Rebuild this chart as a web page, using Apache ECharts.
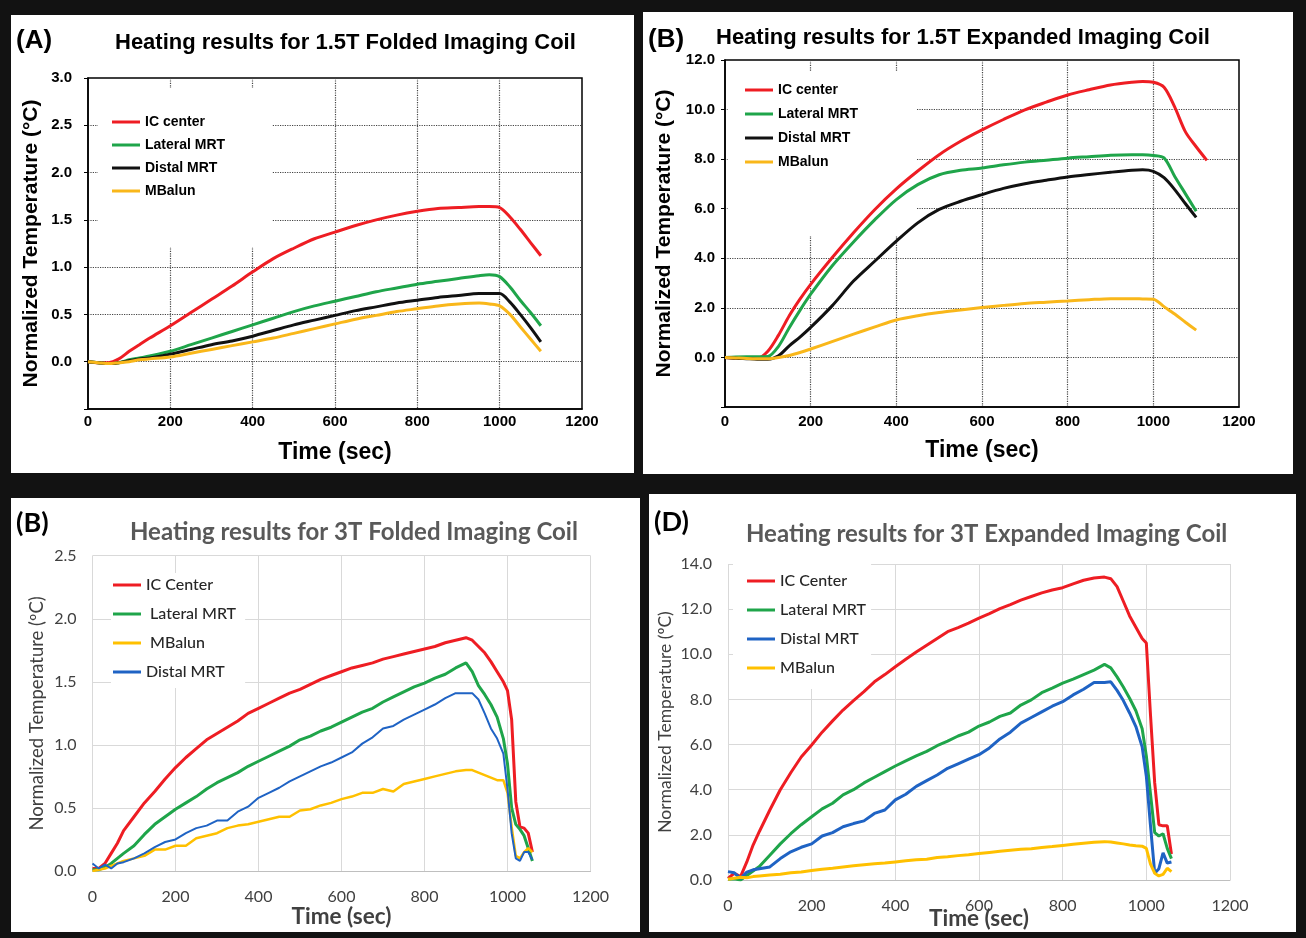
<!DOCTYPE html>
<html>
<head>
<meta charset="utf-8">
<script src="https://cdn.jsdelivr.net/npm/echarts@6/dist/echarts.min.js"></script>
<style>
    html, body { margin: 0; padding: 0; background: #121212; }
    body { width: 1306px; height: 938px; position: relative; overflow: hidden; }
    .panel { position: absolute; background: #fff; }
</style>
</head>
<body>
<div class="panel" id="chartA" style="left:11px;top:15px;width:623px;height:458px;"></div>
<div class="panel" id="chartB" style="left:643px;top:12px;width:650px;height:462px;"></div>
<div class="panel" id="chartC" style="left:11px;top:498px;width:629px;height:434px;"></div>
<div class="panel" id="chartD" style="left:649px;top:494px;width:647px;height:438px;"></div>
<script>
/************* data **************/
// (A) 1.5T folded
var timeA = [0, 25, 50, 75, 100, 125, 150, 200, 250, 300, 350, 400, 450, 500, 550, 600, 650, 700, 750, 800, 850, 900, 950, 975, 1000, 1025, 1050, 1075, 1100];
var icCenterA = [0, -0.01, -0.01, 0.03, 0.11, 0.18, 0.25, 0.38, 0.52, 0.66, 0.80, 0.95, 1.09, 1.20, 1.30, 1.37, 1.44, 1.50, 1.55, 1.59, 1.62, 1.63, 1.64, 1.64, 1.63, 1.53, 1.40, 1.26, 1.12];
var lateralA  = [0, -0.01, -0.02, -0.01, 0.02, 0.04, 0.06, 0.11, 0.18, 0.25, 0.32, 0.39, 0.46, 0.53, 0.59, 0.64, 0.69, 0.74, 0.78, 0.82, 0.85, 0.88, 0.91, 0.92, 0.90, 0.79, 0.65, 0.52, 0.38];
var distalA   = [0, -0.01, -0.02, -0.01, 0.01, 0.03, 0.04, 0.08, 0.13, 0.18, 0.22, 0.27, 0.33, 0.39, 0.44, 0.49, 0.54, 0.58, 0.62, 0.65, 0.68, 0.70, 0.72, 0.72, 0.72, 0.63, 0.50, 0.36, 0.21];
var mbalunA   = [0, -0.01, -0.02, -0.01, 0.00, 0.02, 0.03, 0.05, 0.09, 0.13, 0.17, 0.21, 0.25, 0.30, 0.35, 0.40, 0.45, 0.49, 0.53, 0.56, 0.59, 0.61, 0.62, 0.61, 0.59, 0.50, 0.37, 0.24, 0.11];

// (B) 1.5T expanded
var timeB = [0, 25, 50, 75, 100, 125, 150, 175, 200, 250, 300, 350, 400, 450, 500, 550, 600, 650, 700, 750, 800, 850, 900, 950, 975, 1000, 1025, 1050, 1075, 1100, 1125];
var icCenterB = [0, -0.02, -0.03, -0.04, 0.25, 0.90, 1.68, 2.35, 2.95, 4.02, 5.03, 5.97, 6.80, 7.52, 8.18, 8.72, 9.18, 9.60, 9.99, 10.30, 10.59, 10.80, 10.99, 11.10, 11.13, 11.10, 10.90, 10.10, 9.10, 8.50, 7.95];
var lateralB  = [0, 0.02, 0.03, 0.03, 0.04, 0.45, 1.20, 1.90, 2.55, 3.69, 4.66, 5.56, 6.37, 6.97, 7.37, 7.55, 7.64, 7.77, 7.88, 7.96, 8.04, 8.10, 8.16, 8.18, 8.18, 8.15, 8.05, 7.30, 6.60, 5.90, null];
var distalB   = [0, -0.03, -0.05, -0.07, -0.07, 0.07, 0.47, 0.82, 1.21, 2.08, 3.08, 3.89, 4.69, 5.43, 5.97, 6.30, 6.57, 6.82, 7.01, 7.15, 7.28, 7.38, 7.47, 7.55, 7.57, 7.51, 7.25, 6.77, 6.20, 5.65, null];
var mbalunB   = [0, -0.02, -0.04, -0.05, -0.05, 0.00, 0.08, 0.20, 0.34, 0.64, 0.94, 1.23, 1.51, 1.68, 1.81, 1.91, 2.01, 2.10, 2.18, 2.23, 2.28, 2.33, 2.37, 2.37, 2.36, 2.35, 2.05, 1.75, 1.42, 1.10, null];

// (C) 3T folded  /  (D) 3T expanded  - same time grid
var timeCD = [0, 15, 30, 45, 60, 75, 100, 125, 150, 175, 200, 225, 250, 275, 300, 325, 350, 375, 400, 425, 450, 475, 500, 525, 550, 575, 600, 625, 650, 675, 700, 725, 750, 775, 800, 825, 850, 875, 900, 915, 930, 945, 960, 975, 990, 1000, 1010, 1020, 1030, 1040, 1050, 1060];
var icCenterC = [0.02, 0.02, 0.06, 0.14, 0.22, 0.32, 0.43, 0.54, 0.63, 0.73, 0.82, 0.90, 0.97, 1.04, 1.09, 1.14, 1.19, 1.25, 1.29, 1.33, 1.37, 1.41, 1.44, 1.48, 1.52, 1.55, 1.58, 1.61, 1.63, 1.65, 1.68, 1.70, 1.72, 1.74, 1.76, 1.78, 1.81, 1.83, 1.85, 1.83, 1.78, 1.73, 1.66, 1.58, 1.50, 1.43, 1.20, 0.55, 0.35, 0.34, 0.30, 0.15];
var lateralC  = [0.01, 0.01, 0.03, 0.06, 0.10, 0.14, 0.20, 0.29, 0.37, 0.43, 0.49, 0.54, 0.59, 0.65, 0.70, 0.74, 0.78, 0.83, 0.87, 0.91, 0.95, 0.99, 1.04, 1.07, 1.11, 1.14, 1.18, 1.22, 1.26, 1.29, 1.34, 1.38, 1.42, 1.46, 1.49, 1.53, 1.56, 1.61, 1.65, 1.58, 1.47, 1.40, 1.32, 1.22, 1.05, 0.85, 0.50, 0.37, 0.33, 0.28, 0.18, 0.08];
var mbalunC   = [0.00, 0.01, 0.02, 0.04, 0.06, 0.08, 0.10, 0.12, 0.17, 0.17, 0.20, 0.20, 0.26, 0.28, 0.30, 0.34, 0.36, 0.37, 0.39, 0.41, 0.43, 0.43, 0.48, 0.49, 0.52, 0.54, 0.57, 0.59, 0.62, 0.62, 0.65, 0.63, 0.69, 0.71, 0.73, 0.75, 0.77, 0.79, 0.80, 0.80, 0.78, 0.76, 0.74, 0.72, 0.72, 0.62, 0.35, 0.12, 0.10, 0.15, 0.18, 0.15];
var distalC   = [0.06, 0.02, 0.05, 0.02, 0.06, 0.07, 0.10, 0.14, 0.19, 0.23, 0.25, 0.30, 0.34, 0.36, 0.40, 0.40, 0.47, 0.51, 0.58, 0.62, 0.66, 0.71, 0.75, 0.79, 0.83, 0.86, 0.90, 0.94, 1.01, 1.06, 1.13, 1.15, 1.20, 1.24, 1.28, 1.32, 1.37, 1.41, 1.41, 1.41, 1.36, 1.25, 1.13, 1.05, 0.93, 0.65, 0.30, 0.10, 0.08, 0.15, 0.15, 0.09];

var icCenterD = [0.07, 0.30, 0.15, 0.80, 1.55, 2.15, 3.10, 4.00, 4.75, 5.45, 5.98, 6.55, 7.05, 7.53, 7.95, 8.35, 8.78, 9.10, 9.45, 9.78, 10.10, 10.40, 10.70, 11.00, 11.18, 11.38, 11.60, 11.80, 12.02, 12.20, 12.40, 12.56, 12.72, 12.85, 12.95, 13.12, 13.28, 13.38, 13.42, 13.35, 13.00, 12.35, 11.70, 11.20, 10.70, 10.50, 7.30, 4.30, 2.45, 2.40, 2.40, 1.15];
var lateralD  = [0.03, 0.05, 0.00, 0.20, 0.40, 0.60, 1.10, 1.60, 2.05, 2.45, 2.80, 3.15, 3.40, 3.77, 4.00, 4.30, 4.55, 4.80, 5.05, 5.28, 5.50, 5.70, 5.95, 6.15, 6.38, 6.55, 6.82, 7.00, 7.25, 7.40, 7.75, 7.98, 8.30, 8.50, 8.72, 8.90, 9.10, 9.30, 9.55, 9.40, 9.00, 8.55, 8.05, 7.50, 6.70, 5.50, 3.80, 2.10, 1.95, 2.05, 1.40, 0.95];
var distalD   = [0.37, 0.32, 0.07, 0.35, 0.45, 0.50, 0.58, 0.95, 1.25, 1.45, 1.60, 1.95, 2.10, 2.36, 2.50, 2.62, 2.95, 3.10, 3.55, 3.80, 4.15, 4.40, 4.65, 4.95, 5.15, 5.35, 5.55, 5.85, 6.25, 6.55, 6.95, 7.20, 7.45, 7.70, 7.90, 8.20, 8.45, 8.75, 8.75, 8.78, 8.40, 7.95, 7.40, 6.80, 5.90, 4.60, 2.40, 0.30, 0.50, 1.20, 0.75, 0.80];
var mbalunD   = [0.03, 0.08, 0.12, 0.10, 0.15, 0.18, 0.22, 0.25, 0.32, 0.35, 0.42, 0.48, 0.52, 0.58, 0.63, 0.68, 0.72, 0.75, 0.80, 0.85, 0.90, 0.92, 1.00, 1.03, 1.08, 1.12, 1.17, 1.22, 1.27, 1.32, 1.36, 1.38, 1.44, 1.48, 1.53, 1.58, 1.63, 1.67, 1.70, 1.68, 1.64, 1.60, 1.55, 1.52, 1.50, 1.40, 0.70, 0.30, 0.18, 0.25, 0.52, 0.37];

/************* helpers **************/
var FONT_TOP = "'Liberation Sans', Arial, sans-serif";
var FONT_BOT = "Lato, 'Open Sans', sans-serif";
var RED = '#ee1d23', GREEN = '#1fa54a', BLACK = '#111111', GOLD = '#f9b71a', YELLOW = '#ffc000', BLUE = '#1f63c4';

function pairs(t, v) {
    var out = [];
    for (var i = 0; i < t.length; i++) {
        out.push([t[i], v[i] == null ? '-' : v[i]]);
    }
    return out;
}

function lineSeries(name, t, v, color, width, smooth) {
    return {
        name: name,
        type: 'line',
        z: 3,
        showSymbol: false,
        symbol: 'none',
        smooth: smooth,
        itemStyle: {color: color},
        lineStyle: {color: color, width: width},
        data: pairs(t, v)
    };
}

// top row (dotted grid, box)
function topOption(label, title, labelTop, titleLeft, titleTop, grid, yMin, yMax, yStep, legendBox, nameGapY, labelMarginY, labelMarginX, series) {
    return {
        backgroundColor: '#fff',
        animation: false,
        title: [
            {text: label, left: 5, top: labelTop, padding: 0, textStyle: {fontFamily: FONT_TOP, fontWeight: 'bold', fontSize: 26, color: '#000'}},
            {text: title, left: titleLeft, top: titleTop, padding: 0, textStyle: {fontFamily: FONT_TOP, fontWeight: 'bold', fontSize: 22, color: '#000'}}
        ],
        legend: {
            orient: 'vertical',
            z: 1,
            left: legendBox.left,
            top: legendBox.top,
            padding: legendBox.padding,
            backgroundColor: '#fff',
            icon: 'rect',
            itemWidth: 28,
            itemHeight: 3,
            itemGap: legendBox.gap,
            selectedMode: false,
            textStyle: {fontFamily: FONT_TOP, fontWeight: 'bold', fontSize: 14, color: '#000'},
            data: ['IC center', 'Lateral MRT', 'Distal MRT', 'MBalun']
        },
        grid: {left: grid[0], top: grid[1], width: grid[2], height: grid[3], outerBoundsMode: 'none',
               show: true, borderColor: '#000', borderWidth: 1.5, backgroundColor: '#fff'},
        xAxis: {
            type: 'value', min: 0, max: 1200, interval: 200,
            name: 'Time (sec)', nameLocation: 'middle', nameGap: 32, nameMoveOverlap: false,
            nameTextStyle: {fontFamily: FONT_TOP, fontWeight: 'bold', fontSize: 23, color: '#000'},
            axisLine: {onZero: false, lineStyle: {color: '#000', width: 1.5}},
            axisTick: {show: false},
            axisLabel: {
                margin: labelMarginX, fontFamily: FONT_TOP, fontWeight: 'bold', fontSize: 15, color: '#000',
                formatter: function (v) { return String(v); }
            },
            splitLine: {show: true, showMinLine: false, showMaxLine: false, lineStyle: {type: 'dotted', color: '#444', width: 1.2}}
        },
        yAxis: {
            type: 'value', min: yMin, max: yMax, interval: yStep,
            name: 'Normalized Temperature (°C)', nameLocation: 'middle', nameGap: nameGapY, nameMoveOverlap: false,
            nameTextStyle: {fontFamily: FONT_TOP, fontWeight: 'bold', fontSize: 21, color: '#000'},
            axisLine: {onZero: false, lineStyle: {color: '#000', width: 1.5}},
            axisTick: {show: true, length: 4, lineStyle: {color: '#000'}},
            axisLabel: {
                margin: labelMarginY, fontFamily: FONT_TOP, fontWeight: 'bold', fontSize: 15, color: '#000',
                formatter: function (v) { return v < 0 ? '' : v.toFixed(1); }
            },
            splitLine: {show: true, showMinLine: false, showMaxLine: false, lineStyle: {type: 'dotted', color: '#444', width: 1.2}}
        },
        series: series
    };
}

// bottom row (light solid grid)
function botOption(label, title, labelTop, titleLeft, titleTop, grid, yMax, yStep, legendBox, nameGapY, nameSizeY, nameGapX, legendOrder, series) {
    return {
        backgroundColor: '#fff',
        animation: false,
        title: [
            {text: label, left: 5, top: labelTop, padding: 0, textStyle: {fontFamily: FONT_BOT, fontWeight: 'bold', fontSize: 27, color: '#000'}},
            {text: title, left: titleLeft, top: titleTop, padding: 0, textStyle: {fontFamily: FONT_BOT, fontWeight: 'bold', fontSize: 24, color: '#595959'}}
        ],
        legend: {
            orient: 'vertical',
            z: 1,
            left: legendBox.left,
            top: legendBox.top,
            padding: legendBox.padding,
            backgroundColor: '#fff',
            icon: 'rect',
            itemWidth: 28,
            itemHeight: 3,
            itemGap: legendBox.gap,
            selectedMode: false,
            textStyle: {fontFamily: FONT_BOT, fontSize: 16, fontWeight: 500, color: '#262626'},
            formatter: legendBox.formatter,
            data: legendOrder
        },
        grid: {left: grid[0], top: grid[1], width: grid[2], height: grid[3], outerBoundsMode: 'none'},
        xAxis: {
            type: 'value', min: 0, max: 1200, interval: 200,
            name: 'Time (sec)', nameLocation: 'middle', nameGap: nameGapX, nameMoveOverlap: false,
            nameTextStyle: {fontFamily: FONT_BOT, fontWeight: 'bold', fontSize: 22.5, color: '#404040'},
            axisLine: {onZero: false, lineStyle: {color: '#bfbfbf', width: 1}},
            axisTick: {show: false},
            axisLabel: {
                margin: 18, fontFamily: FONT_BOT, fontSize: 16, color: '#404040',
                formatter: function (v) { return String(v); }
            },
            splitLine: {show: true, lineStyle: {color: '#d9d9d9', width: 1}}
        },
        yAxis: {
            type: 'value', min: 0, max: yMax, interval: yStep,
            name: 'Normalized Temperature (ºC)', nameLocation: 'middle', nameGap: nameGapY, nameMoveOverlap: false,
            nameTextStyle: {fontFamily: FONT_BOT, fontSize: nameSizeY, color: '#404040'},
            axisLine: {show: false},
            axisTick: {show: false},
            axisLabel: {
                margin: 16, fontFamily: FONT_BOT, fontSize: 16, color: '#404040',
                formatter: function (v) { return v.toFixed(1); }
            },
            splitLine: {show: true, lineStyle: {color: '#d9d9d9', width: 1}}
        },
        series: series
    };
}

/************* charts **************/
var chartA = echarts.init(document.getElementById('chartA'));
var chartB = echarts.init(document.getElementById('chartB'));
var chartC = echarts.init(document.getElementById('chartC'));
var chartD = echarts.init(document.getElementById('chartD'));

var option_chartA = topOption('(A)', 'Heating results for 1.5T Folded Imaging Coil', 13, 104, 17,
    [77, 63, 494, 331], -0.5, 3, 0.5,
    {left: 87, top: 73, padding: [27, 47, 49, 14], gap: 9}, 46, 16, 5,
    [
        lineSeries('IC center', timeA, icCenterA, RED, 3, 0.3),
        lineSeries('Lateral MRT', timeA, lateralA, GREEN, 3, 0.3),
        lineSeries('Distal MRT', timeA, distalA, BLACK, 3, 0.3),
        lineSeries('MBalun', timeA, mbalunA, GOLD, 3, 0.3)
    ]);

var option_chartB = topOption('(B)', 'Heating results for 1.5T Expanded Imaging Coil', 15, 73, 15,
    [82, 48, 514, 347], -2, 12, 2,
    {left: 85, top: 60, padding: [11, 58, 67, 17], gap: 10}, 50, 10, 7,
    [
        lineSeries('IC center', timeB, icCenterB, RED, 3, 0.3),
        lineSeries('Lateral MRT', timeB, lateralB, GREEN, 3, 0.3),
        lineSeries('Distal MRT', timeB, distalB, BLACK, 3, 0.3),
        lineSeries('MBalun', timeB, mbalunB, GOLD, 3, 0.3)
    ]);

var option_chartC = botOption('(B)', 'Heating results for 3T Folded Imaging Coil', 12, 119, 22,
    [81.5, 57.7, 498, 315.3], 2.5, 0.5,
    {left: 100, top: 75, padding: [4, 9, 8, 2], gap: 13,
     formatter: function (name) { return (name === 'Lateral MRT' || name === 'MBalun') ? ' ' + name : name; }},
    46, 18.5, 34,
    ['IC Center', 'Lateral MRT', 'MBalun', 'Distal MRT'],
    [
        lineSeries('IC Center', timeCD, icCenterC, RED, 3, false),
        lineSeries('Lateral MRT', timeCD, lateralC, GREEN, 3, false),
        lineSeries('MBalun', timeCD, mbalunC, YELLOW, 2.5, false),
        lineSeries('Distal MRT', timeCD, distalC, BLUE, 2, false)
    ]);

var option_chartD = botOption('(D)', 'Heating results for 3T Expanded Imaging Coil', 15, 97, 28,
    [79, 70, 502, 316], 14, 2,
    {left: 84, top: 66, padding: [13, 5, 13, 14], gap: 13, formatter: '{name}'},
    54, 17.5, 27,
    ['IC Center', 'Lateral MRT', 'Distal MRT', 'MBalun'],
    [
        lineSeries('IC Center', timeCD, icCenterD, RED, 3, false),
        lineSeries('Lateral MRT', timeCD, lateralD, GREEN, 3, false),
        lineSeries('Distal MRT', timeCD, distalD, BLUE, 3, false),
        lineSeries('MBalun', timeCD, mbalunD, YELLOW, 3, false)
    ]);

chartA.setOption(option_chartA);
chartB.setOption(option_chartB);
chartC.setOption(option_chartC);
chartD.setOption(option_chartD);
</script>
</body>
</html>
